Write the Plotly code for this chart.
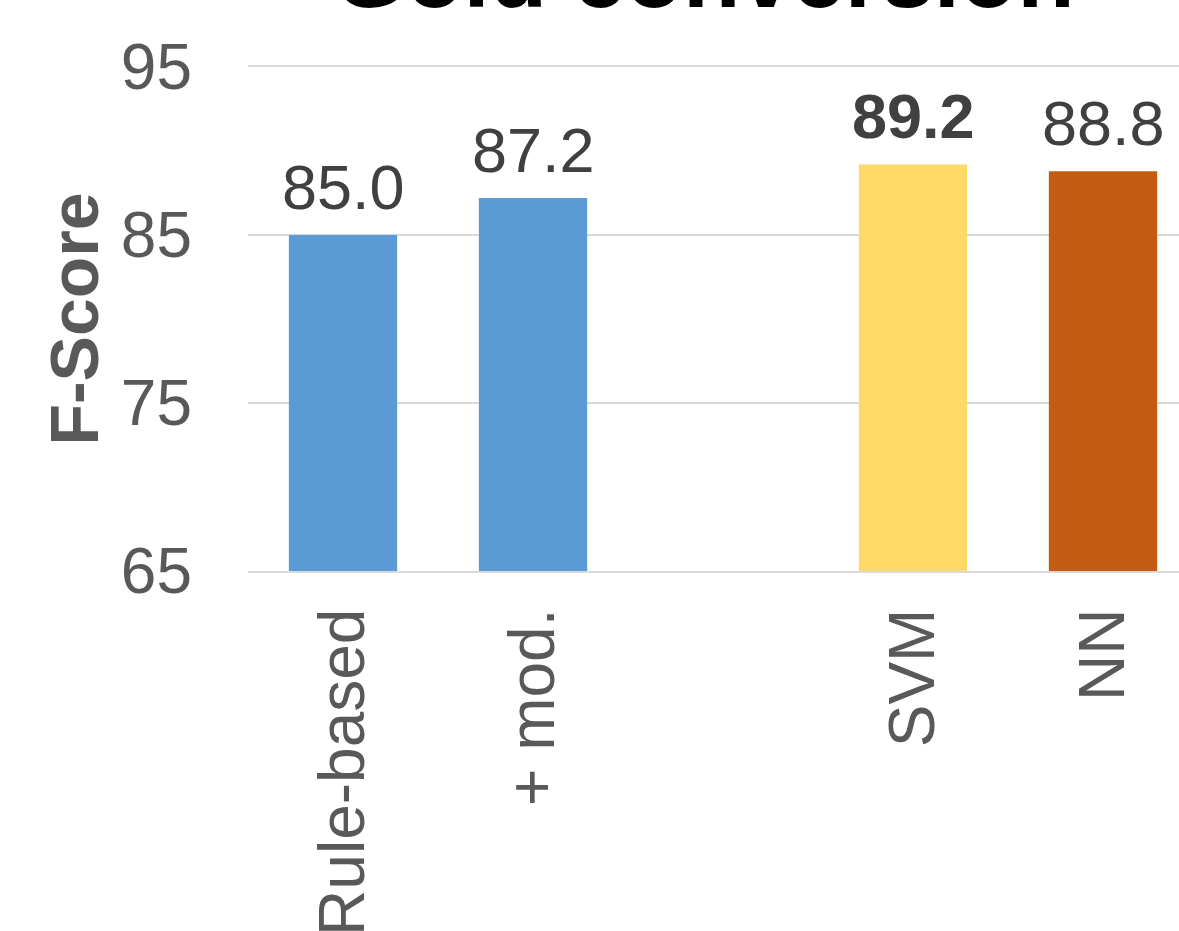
import plotly.graph_objects as go

categories = ["Rule-based", "+ mod.", " ", "SVM", "NN"]
scores = [85.0, 87.2, None, 89.2, 88.8]
bar_colors = ["#5B9BD5", "#5B9BD5", "#FFFFFF", "#FFD966", "#C55A11"]
bold_flags = [False, False, False, True, False]
y_ticks = [65, 75, 85, 95]
title_text = "Gold conversion"
y_title = "F-Score"

font_family = "Liberation Sans, Arial, sans-serif"

fig = go.Figure()
fig.add_trace(go.Bar(
    x=categories,
    y=scores,
    marker=dict(color=bar_colors, line=dict(width=0)),
    width=0.57,
    showlegend=False,
))

for c, v, b in zip(categories, scores, bold_flags):
    if v is None:
        continue
    txt = f"<b>{v:.1f}</b>" if b else f"{v:.1f}"
    fig.add_annotation(
        x=c, y=v, xref="x", yref="y",
        text=txt, showarrow=False,
        xanchor="center", yanchor="bottom", yshift=11,
        font=dict(family=font_family, size=63, color="#404040"),
    )

fig.add_annotation(
    text=f"<b>{title_text}</b>",
    xref="paper", yref="paper",
    x=0.49, y=1.075,
    xanchor="center", yanchor="bottom",
    showarrow=False,
    font=dict(family=font_family, size=94, color="#000000"),
)

fig.update_layout(
    width=1179, height=931,
    margin=dict(l=248, r=0, t=67, b=360, autoexpand=False),
    paper_bgcolor="white",
    plot_bgcolor="white",
    font=dict(family=font_family, color="#595959"),
)
fig.update_xaxes(
    type="category",
    range=[-0.5, 4.4],
    tickangle=-90,
    tickfont=dict(family=font_family, size=64, color="#595959"),
    showgrid=False,
    showline=True,
    mirror=True,
    linecolor="#D9D9D9",
    linewidth=2,
    ticks="",
    ticklabelstandoff=10,
    automargin=False,
    fixedrange=True,
)
fig.update_yaxes(
    range=[65, 95],
    tickvals=y_ticks,
    tickfont=dict(family=font_family, size=64, color="#595959"),
    showgrid=True,
    gridcolor="#D9D9D9",
    gridwidth=2,
    zeroline=False,
    showline=False,
    ticks="",
    ticklabelstandoff=55,
    automargin=False,
    title=dict(text=f"<b>{y_title}</b>", font=dict(family=font_family, size=68, color="#595959"), standoff=0),
)

fig.write_html("out.html")
